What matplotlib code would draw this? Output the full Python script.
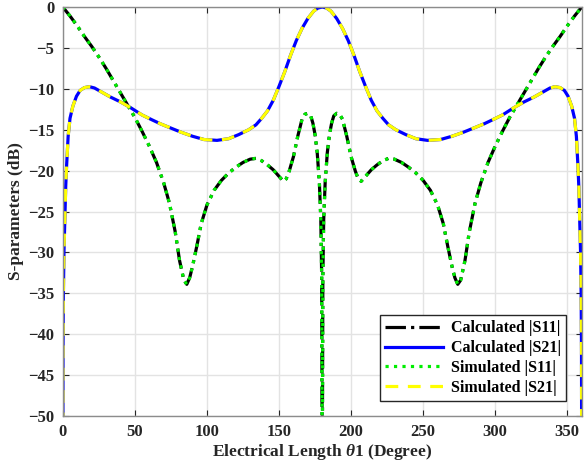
import matplotlib
matplotlib.use('Agg')
import matplotlib.pyplot as plt

plt.rcParams['font.family'] = ['Liberation Serif', 'DejaVu Serif']
plt.rcParams['font.weight'] = 'bold'
plt.rcParams['mathtext.fontset'] = 'custom'
plt.rcParams['mathtext.it'] = 'Liberation Serif:bold:italic'
plt.rcParams['mathtext.rm'] = 'Liberation Serif:bold'

# |S11| (dB vs degree)
theta_s11 = [0, 5, 10, 15, 20, 25, 30, 35, 40, 45, 50, 55, 60, 65, 70, 74, 78, 81,
             84, 86, 88, 90, 93, 96, 100, 105, 110, 115, 120, 125, 130, 134, 138,
             142, 146, 150, 153, 155, 157, 160, 163, 166, 168, 170, 172, 173.5,
             175, 176.5, 178, 179, 179.6, 180,
             180.4, 181, 182, 183.5, 185, 186.5, 188, 190, 192, 194, 197, 200, 203,
             205, 207, 210, 214, 218, 222, 226, 230, 235, 240, 245, 250, 255, 260,
             264, 267, 270, 272, 274, 276, 279, 282, 286, 290, 295, 300, 305, 310,
             315, 320, 325, 330, 335, 340, 345, 350, 355, 360]
s11_db = [0, -1.1, -2.3, -3.6, -4.8, -6.1, -7.5, -9.0, -10.5, -12.0, -13.5, -15.2,
          -17.0, -19.0, -21.5, -24.0, -27.5, -31.0, -33.4, -33.9, -33.1, -31.7,
          -29.2, -26.5, -24.2, -22.4, -21.2, -20.3, -19.6, -19.0, -18.6, -18.5,
          -18.8, -19.3, -19.9, -20.7, -21.3, -21.0, -20.1, -18.3, -15.8, -13.7,
          -13.1, -13.0, -13.3, -14.2, -15.6, -17.8, -21.5, -26.0, -33.0, -60,
          -33.0, -26.0, -21.5, -17.8, -15.6, -14.2, -13.3, -13.0, -13.1, -13.7,
          -15.8, -18.3, -20.1, -21.0, -21.3, -20.7, -19.9, -19.3, -18.8, -18.5,
          -18.6, -19.0, -19.6, -20.3, -21.2, -22.4, -24.2, -26.5, -29.2, -31.7,
          -33.1, -33.9, -33.4, -31.0, -27.5, -24.0, -21.5, -19.0, -17.0, -15.2,
          -13.5, -12.0, -10.5, -9.0, -7.5, -6.1, -4.8, -3.6, -2.3, -1.1, 0]

# |S21|
theta_s21 = [0, 0.15, 0.4, 0.8, 1.4, 2, 2.6, 3.7, 5, 7, 9.5, 12, 15, 18.5, 22, 27,
             33, 40, 47, 55, 62, 68, 75, 82, 90, 98, 107, 115, 122, 129, 134, 138,
             142, 146, 150, 154, 158, 162, 166, 170, 174, 177, 180,
             183, 186, 190, 194, 198, 202, 206, 210, 214, 218, 222, 226, 231, 238,
             245, 253, 262, 270, 278, 285, 292, 298, 305, 313, 320, 327, 333, 338,
             341.5, 345, 348, 350.5, 353, 355, 356.3, 357.4, 358, 358.6, 359.2,
             359.6, 359.85, 360]
s21_db = [-60, -42, -35, -30, -26, -22, -19.5, -15.8, -13.6, -12.1, -10.9, -10.2,
          -9.85, -9.74, -9.9, -10.4, -11.0, -11.6, -12.3, -13.2, -13.8, -14.3,
          -14.8, -15.3, -15.8, -16.2, -16.3, -16.1, -15.6, -15.0, -14.4, -13.6,
          -12.7, -11.4, -9.7, -7.9, -5.9, -4.1, -2.6, -1.4, -0.5, -0.12, 0,
          -0.12, -0.5, -1.4, -2.6, -4.1, -5.9, -7.9, -9.7, -11.4, -12.7, -13.6,
          -14.4, -15.0, -15.6, -16.1, -16.3, -16.2, -15.8, -15.3, -14.8, -14.3,
          -13.8, -13.2, -12.3, -11.6, -11.0, -10.4, -9.9, -9.74, -9.85, -10.2,
          -10.9, -12.1, -13.6, -15.8, -19.5, -22, -26, -30, -35, -42, -60]

x_ticks = [0, 50, 100, 150, 200, 250, 300, 350]
y_ticks = [0, -5, -10, -15, -20, -25, -30, -35, -40, -45, -50]

fig = plt.figure(figsize=(5.87, 4.69), dpi=100)
ax = fig.add_axes([0.107, 0.113, 0.884, 0.872])

ax.plot(theta_s11, s11_db, color='black', linestyle='-.', linewidth=2.3,
        label='Calculated |S11|')
ax.plot(theta_s21, s21_db, color='#0000ff', linestyle='-', linewidth=2.3,
        label='Calculated |S21|')
ax.plot(theta_s11, s11_db, color='#00ee00', linestyle=':', linewidth=2.3,
        label='Simulated |S11|')
ax.plot(theta_s21, s21_db, color='#ffff00', linestyle='--', linewidth=2.3,
        dashes=(4, 3), label='Simulated |S21|')

ax.set_xlim(0, 360)
ax.set_ylim(-50, 0)
ax.set_xticks(x_ticks)
ax.set_yticks(y_ticks)
ax.grid(True, color='#e3e3e3', linewidth=1.0)
ax.set_axisbelow(True)

ax.tick_params(direction='in', top=True, right=True, length=4, width=0.8,
               color='#262626', labelcolor='#262626', labelsize=12, pad=6)
for lbl in ax.get_xticklabels() + ax.get_yticklabels():
    lbl.set_fontweight('bold')
for s in ax.spines.values():
    s.set_color('#8c8c8c')
    s.set_linewidth(1.0)

ax.set_xlabel(r'Electrical Length $\theta$1 (Degree)', fontsize=12.5,
              fontweight='bold', color='#262626', labelpad=1)
ax.set_ylabel('S-parameters (dB)', fontsize=12.5, fontweight='bold',
              color='#262626', labelpad=3)

leg = ax.legend(loc='lower right', fontsize=11.5, handlelength=3.6,
                fancybox=False, framealpha=1, edgecolor='#262626',
                borderpad=0.3, labelspacing=0.25, handletextpad=0.5,
                borderaxespad=0, bbox_to_anchor=(0.969, 0.037))
leg.get_frame().set_linewidth(1.0)
for t in leg.get_texts():
    t.set_fontweight('bold')

fig.savefig('out.png', dpi=100)
